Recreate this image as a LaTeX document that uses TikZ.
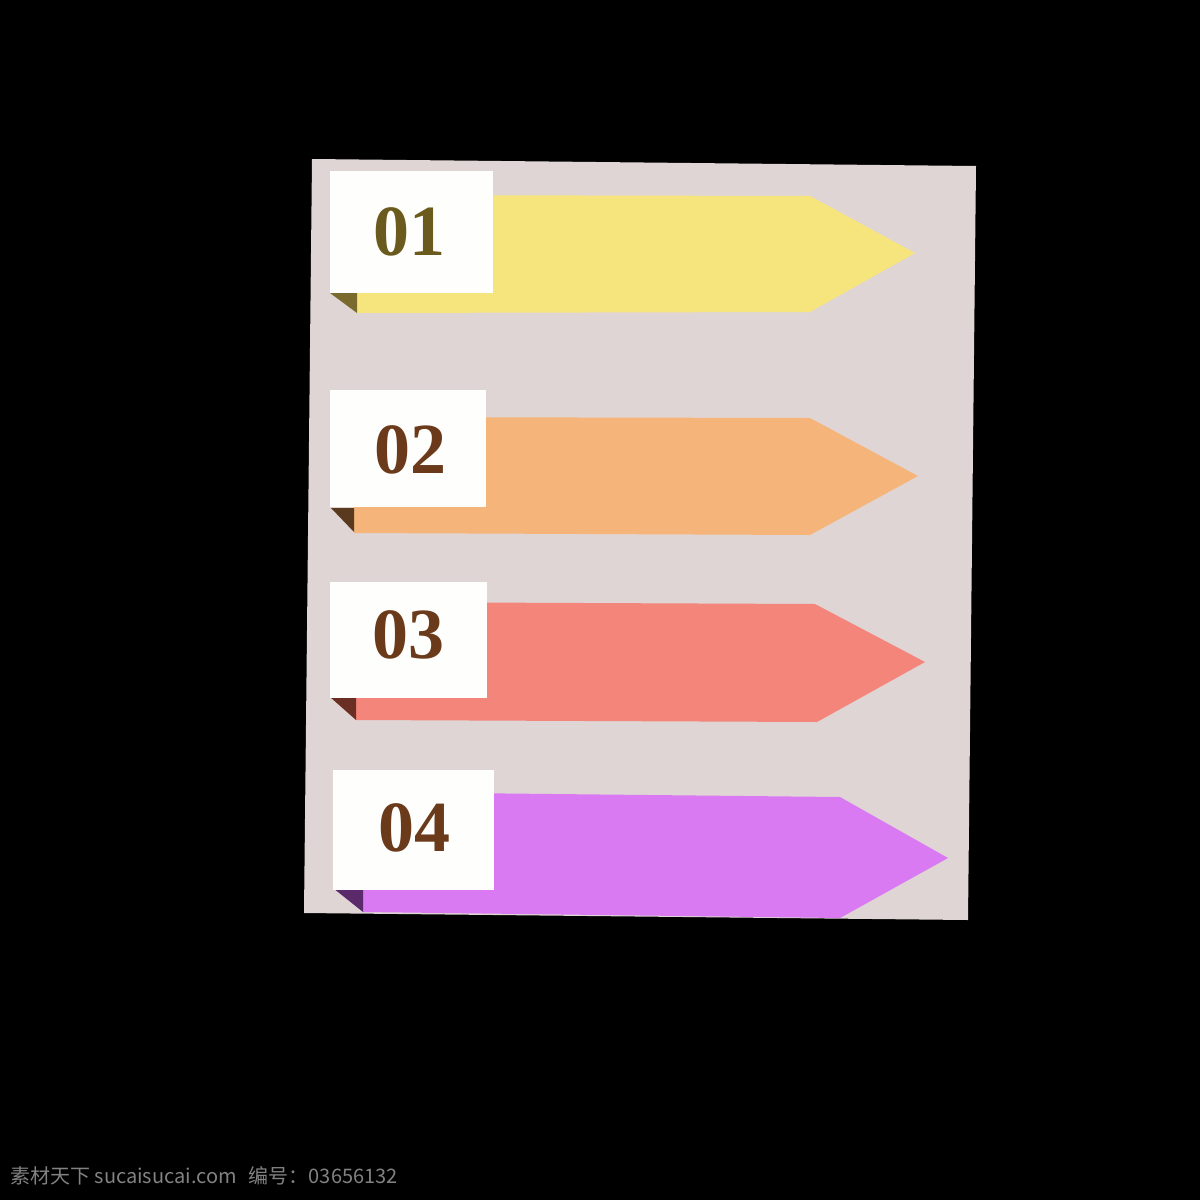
\documentclass[tikz,border=0pt]{standalone}
\usepackage{fontspec}
\setmainfont{Liberation Serif}
\newfontfamily\cjkfont{Noto Sans CJK SC}
\definecolor{panelc}{HTML}{E0D5D5}
\definecolor{yel}{HTML}{F6E57C}
\definecolor{ora}{HTML}{F5B57A}
\definecolor{sal}{HTML}{F4857A}
\definecolor{vio}{HTML}{D97AF2}
\definecolor{olive}{HTML}{6B5A1E}
\definecolor{brn}{HTML}{6B3A1A}
\definecolor{fold1}{HTML}{7A6A2E}
\definecolor{fold2}{HTML}{5A3A1E}
\definecolor{fold3}{HTML}{6B2E22}
\definecolor{fold4}{HTML}{5A2A6A}
\definecolor{lab}{HTML}{FEFEFC}
\tikzset{
  labelbox/.style={fill=lab, draw=none},
  numtext/.style={font=\fontsize{72}{72}\selectfont\bfseries, inner sep=0pt},
}
\begin{document}
\begin{tikzpicture}[x=1pt,y=-1pt]
\useasboundingbox (0,0) rectangle (1200,1200);
\fill[black] (0,0) rectangle (1200,1200);
% panel
\fill[panelc] (312,159) -- (976,166) -- (968,920) -- (304,913) -- cycle;
% arrow 1
\fill[yel] (357,195) -- (810,196) -- (915,253) -- (810,312) -- (357,313) -- cycle;
\fill[fold1] (330,293) -- (357,293) -- (357,313) -- cycle;
\fill[labelbox] (330,171) rectangle (493,293);
\node[numtext, text=olive] (n1) at (409,232) {01};
% arrow 2
\fill[ora] (354,417) -- (810,418) -- (918,476) -- (810,535) -- (354,533) -- cycle;
\fill[fold2] (331,508) -- (354,508) -- (354,532) -- cycle;
\fill[labelbox] (330,390) rectangle (486,507);
\node[numtext, text=brn] (n2) at (410,450) {02};
% arrow 3
\fill[sal] (356,602) -- (815,604) -- (925,662) -- (817,722) -- (356,720) -- cycle;
\fill[fold3] (330,697) -- (356,697) -- (356,720) -- cycle;
\fill[labelbox] (330,582) rectangle (487,698);
\node[numtext, text=brn] (n3) at (408,635) {03};
% arrow 4
\fill[vio] (363,792) -- (840,797) -- (948,858) -- (840,918) -- (363,912) -- cycle;
\fill[fold4] (333,888) -- (363,888) -- (363,912) -- cycle;
\fill[labelbox] (333,770) rectangle (494,890);
\node[numtext, text=brn] (n4) at (414,828) {04};
% watermark
\node[anchor=base west, inner sep=0pt, text={rgb,255:red,130;green,130;blue,130}, font=\cjkfont\fontsize{20}{20}\selectfont] (wm) at (10,1183) {素材天下 sucaisucai.com\hspace{12pt}编号：03656132};
\end{tikzpicture}
\end{document}
